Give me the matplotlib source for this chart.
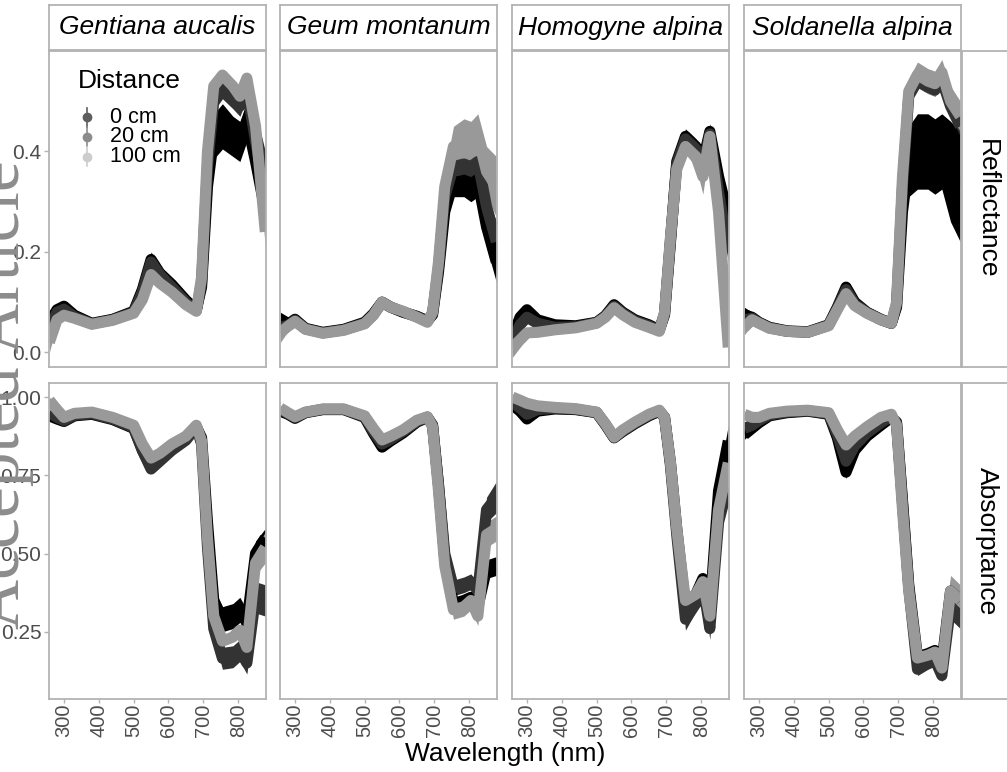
import numpy as np
import matplotlib
matplotlib.use("Agg")
import matplotlib.pyplot as plt
from matplotlib.lines import Line2D

plt.rcParams['font.family'] = ['Liberation Sans', 'DejaVu Sans']

# wavelength grid (nm) shared by every series
wl = [258, 280, 300, 330, 380, 440, 500, 525, 550, 575, 610, 650, 680, 695, 712, 730, 755, 785, 805, 825, 850, 878]

species = ['Gentiana aucalis', 'Geum montanum', 'Homogyne alpina', 'Soldanella alpina']
measures = ['Reflectance', 'Absorptance']
distances = ['0 cm', '20 cm', '100 cm']

# --- reflectance, mean and sd per distance ---
ga_r_0 = [0.06, 0.085, 0.092, 0.074, 0.058, 0.066, 0.082, 0.125, 0.185, 0.158, 0.135, 0.104, 0.085, 0.13, 0.33, 0.43, 0.45, 0.43, 0.42, 0.46, 0.38, 0.28]
ga_r_0_sd = [0.02, 0.01, 0.008, 0.006, 0.005, 0.005, 0.006, 0.01, 0.015, 0.012, 0.01, 0.006, 0.005, 0.02, 0.04, 0.045, 0.045, 0.04, 0.04, 0.04, 0.05, 0.04]
ga_r_20 = [0.05, 0.08, 0.086, 0.071, 0.057, 0.065, 0.08, 0.12, 0.18, 0.155, 0.13, 0.1, 0.083, 0.14, 0.37, 0.5, 0.525, 0.505, 0.49, 0.525, 0.42, 0.32]
ga_r_20_sd = [0.02, 0.008, 0.006, 0.005, 0.005, 0.005, 0.005, 0.01, 0.015, 0.012, 0.01, 0.006, 0.005, 0.015, 0.03, 0.02, 0.02, 0.02, 0.02, 0.02, 0.06, 0.08]
ga_r_100 = [0.02, 0.065, 0.074, 0.068, 0.056, 0.064, 0.078, 0.105, 0.155, 0.138, 0.12, 0.095, 0.082, 0.15, 0.40, 0.53, 0.552, 0.53, 0.51, 0.546, 0.45, 0.24]
ga_r_100_sd = [0.02, 0.008, 0.006, 0.005, 0.005, 0.005, 0.005, 0.006, 0.008, 0.007, 0.006, 0.005, 0.005, 0.01, 0.02, 0.015, 0.012, 0.012, 0.012, 0.012, 0.03, 0.03]

gm_r_0 = [0.06, 0.056, 0.066, 0.048, 0.04, 0.046, 0.06, 0.077, 0.10, 0.09, 0.08, 0.072, 0.063, 0.075, 0.16, 0.28, 0.34, 0.34, 0.33, 0.34, 0.25, 0.18]
gm_r_0_sd = [0.02, 0.015, 0.01, 0.005, 0.004, 0.004, 0.004, 0.005, 0.006, 0.005, 0.005, 0.004, 0.004, 0.008, 0.02, 0.025, 0.03, 0.03, 0.03, 0.03, 0.04, 0.04]
gm_r_20 = [0.05, 0.054, 0.064, 0.047, 0.039, 0.045, 0.058, 0.075, 0.10, 0.09, 0.081, 0.071, 0.062, 0.078, 0.17, 0.31, 0.37, 0.375, 0.37, 0.38, 0.29, 0.22]
gm_r_20_sd = [0.02, 0.012, 0.008, 0.005, 0.004, 0.004, 0.004, 0.005, 0.006, 0.005, 0.005, 0.004, 0.004, 0.008, 0.02, 0.02, 0.02, 0.02, 0.02, 0.02, 0.03, 0.04]
gm_r_100 = [0.04, 0.052, 0.062, 0.046, 0.038, 0.044, 0.057, 0.074, 0.10, 0.09, 0.082, 0.07, 0.06, 0.08, 0.18, 0.33, 0.41, 0.42, 0.415, 0.43, 0.36, 0.33]
gm_r_100_sd = [0.02, 0.01, 0.008, 0.005, 0.004, 0.004, 0.004, 0.005, 0.006, 0.005, 0.005, 0.004, 0.004, 0.008, 0.02, 0.03, 0.04, 0.045, 0.045, 0.045, 0.05, 0.06]

ha_r_0 = [0.03, 0.07, 0.085, 0.065, 0.055, 0.053, 0.06, 0.073, 0.095, 0.08, 0.065, 0.055, 0.045, 0.075, 0.22, 0.38, 0.43, 0.41, 0.38, 0.44, 0.35, 0.27]
ha_r_0_sd = [0.02, 0.015, 0.01, 0.006, 0.005, 0.005, 0.005, 0.005, 0.006, 0.005, 0.005, 0.004, 0.004, 0.008, 0.015, 0.015, 0.015, 0.015, 0.02, 0.015, 0.03, 0.02]
ha_r_20 = [0.02, 0.055, 0.07, 0.058, 0.05, 0.051, 0.059, 0.072, 0.092, 0.078, 0.063, 0.053, 0.044, 0.078, 0.225, 0.375, 0.425, 0.405, 0.37, 0.435, 0.32, 0.2]
ha_r_20_sd = [0.02, 0.015, 0.01, 0.006, 0.005, 0.005, 0.005, 0.005, 0.006, 0.005, 0.005, 0.004, 0.004, 0.008, 0.015, 0.015, 0.015, 0.015, 0.02, 0.015, 0.03, 0.02]
ha_r_100 = [0.01, 0.025, 0.039, 0.04, 0.045, 0.049, 0.058, 0.07, 0.089, 0.075, 0.06, 0.05, 0.042, 0.08, 0.23, 0.365, 0.41, 0.39, 0.35, 0.43, 0.28, 0.01]
ha_r_100_sd = [0.02, 0.015, 0.01, 0.006, 0.005, 0.005, 0.005, 0.005, 0.006, 0.005, 0.005, 0.004, 0.004, 0.008, 0.015, 0.015, 0.015, 0.02, 0.035, 0.015, 0.04, 0.02]

sa_r_0 = [0.075, 0.07, 0.06, 0.05, 0.043, 0.041, 0.055, 0.09, 0.13, 0.1, 0.08, 0.066, 0.058, 0.09, 0.28, 0.38, 0.40, 0.40, 0.39, 0.40, 0.36, 0.33]
sa_r_0_sd = [0.015, 0.01, 0.006, 0.005, 0.004, 0.004, 0.004, 0.006, 0.01, 0.008, 0.005, 0.004, 0.004, 0.01, 0.04, 0.07, 0.075, 0.075, 0.075, 0.075, 0.1, 0.11]
sa_r_20 = [0.065, 0.068, 0.059, 0.049, 0.042, 0.04, 0.054, 0.088, 0.125, 0.097, 0.079, 0.065, 0.058, 0.095, 0.33, 0.51, 0.54, 0.528, 0.522, 0.542, 0.49, 0.45]
sa_r_20_sd = [0.015, 0.01, 0.006, 0.005, 0.004, 0.004, 0.004, 0.005, 0.008, 0.006, 0.004, 0.004, 0.004, 0.008, 0.015, 0.012, 0.012, 0.012, 0.012, 0.012, 0.02, 0.02]
sa_r_100 = [0.05, 0.065, 0.058, 0.048, 0.042, 0.04, 0.053, 0.085, 0.117, 0.093, 0.078, 0.065, 0.058, 0.10, 0.35, 0.52, 0.553, 0.54, 0.535, 0.558, 0.50, 0.47]
sa_r_100_sd = [0.015, 0.01, 0.006, 0.005, 0.004, 0.004, 0.004, 0.005, 0.006, 0.005, 0.004, 0.004, 0.004, 0.008, 0.02, 0.025, 0.025, 0.025, 0.025, 0.025, 0.03, 0.03]

# --- absorptance ---
ga_a_0 = [0.94, 0.93, 0.922, 0.94, 0.945, 0.928, 0.9, 0.83, 0.775, 0.8, 0.835, 0.865, 0.905, 0.87, 0.6, 0.35, 0.29, 0.3, 0.32, 0.28, 0.5, 0.55]
ga_a_0_sd = [0.01, 0.01, 0.006, 0.005, 0.005, 0.005, 0.005, 0.008, 0.012, 0.01, 0.008, 0.006, 0.005, 0.01, 0.03, 0.04, 0.04, 0.04, 0.04, 0.04, 0.04, 0.03]
ga_a_20 = [0.95, 0.935, 0.925, 0.942, 0.947, 0.93, 0.902, 0.83, 0.77, 0.795, 0.83, 0.862, 0.905, 0.85, 0.52, 0.26, 0.165, 0.17, 0.19, 0.15, 0.36, 0.35]
ga_a_20_sd = [0.01, 0.01, 0.006, 0.005, 0.005, 0.005, 0.005, 0.008, 0.015, 0.01, 0.008, 0.006, 0.005, 0.01, 0.03, 0.03, 0.035, 0.035, 0.035, 0.035, 0.05, 0.05]
ga_a_100 = [0.99, 0.96, 0.935, 0.948, 0.952, 0.935, 0.91, 0.85, 0.805, 0.82, 0.85, 0.875, 0.91, 0.86, 0.55, 0.30, 0.22, 0.233, 0.255, 0.20, 0.47, 0.52]
ga_a_100_sd = [0.01, 0.01, 0.006, 0.005, 0.005, 0.005, 0.005, 0.008, 0.01, 0.008, 0.006, 0.006, 0.005, 0.01, 0.02, 0.02, 0.015, 0.015, 0.015, 0.02, 0.04, 0.05]

gm_a_0 = [0.955, 0.945, 0.932, 0.95, 0.96, 0.96, 0.935, 0.885, 0.84, 0.86, 0.885, 0.92, 0.935, 0.91, 0.72, 0.48, 0.34, 0.35, 0.36, 0.33, 0.45, 0.46]
gm_a_0_sd = [0.01, 0.008, 0.006, 0.005, 0.005, 0.005, 0.005, 0.008, 0.012, 0.01, 0.008, 0.006, 0.005, 0.01, 0.02, 0.02, 0.015, 0.015, 0.015, 0.015, 0.03, 0.03]
gm_a_20 = [0.96, 0.947, 0.935, 0.951, 0.961, 0.961, 0.937, 0.89, 0.85, 0.865, 0.89, 0.922, 0.936, 0.91, 0.72, 0.5, 0.39, 0.4, 0.41, 0.38, 0.64, 0.68]
gm_a_20_sd = [0.01, 0.008, 0.006, 0.005, 0.005, 0.005, 0.005, 0.006, 0.01, 0.008, 0.006, 0.005, 0.005, 0.01, 0.02, 0.025, 0.025, 0.025, 0.025, 0.025, 0.04, 0.05]
gm_a_100 = [0.965, 0.95, 0.937, 0.952, 0.962, 0.962, 0.94, 0.90, 0.863, 0.875, 0.895, 0.926, 0.937, 0.905, 0.70, 0.46, 0.32, 0.33, 0.35, 0.30, 0.56, 0.58]
gm_a_100_sd = [0.01, 0.008, 0.006, 0.005, 0.005, 0.005, 0.005, 0.006, 0.008, 0.007, 0.006, 0.005, 0.005, 0.01, 0.02, 0.03, 0.03, 0.03, 0.03, 0.03, 0.04, 0.04]

ha_a_0 = [0.975, 0.955, 0.93, 0.955, 0.962, 0.96, 0.95, 0.912, 0.87, 0.89, 0.915, 0.94, 0.955, 0.935, 0.79, 0.58, 0.33, 0.37, 0.42, 0.32, 0.70, 0.86]
ha_a_0_sd = [0.015, 0.015, 0.01, 0.006, 0.005, 0.005, 0.005, 0.006, 0.008, 0.007, 0.006, 0.005, 0.005, 0.01, 0.02, 0.02, 0.03, 0.02, 0.02, 0.03, 0.04, 0.05]
ha_a_20 = [0.985, 0.965, 0.945, 0.96, 0.964, 0.961, 0.951, 0.913, 0.87, 0.892, 0.917, 0.942, 0.956, 0.935, 0.78, 0.56, 0.29, 0.34, 0.40, 0.26, 0.60, 0.72]
ha_a_20_sd = [0.01, 0.01, 0.008, 0.006, 0.005, 0.005, 0.005, 0.006, 0.008, 0.007, 0.006, 0.005, 0.005, 0.01, 0.02, 0.02, 0.035, 0.025, 0.02, 0.035, 0.04, 0.04]
ha_a_100 = [1.0, 0.99, 0.98, 0.972, 0.967, 0.963, 0.952, 0.915, 0.872, 0.895, 0.92, 0.945, 0.958, 0.935, 0.79, 0.58, 0.35, 0.37, 0.41, 0.30, 0.64, 0.79]
ha_a_100_sd = [0.01, 0.01, 0.008, 0.006, 0.005, 0.005, 0.005, 0.006, 0.008, 0.007, 0.006, 0.005, 0.005, 0.01, 0.02, 0.02, 0.02, 0.02, 0.02, 0.03, 0.04, 0.04]

sa_a_0 = [0.88, 0.9, 0.918, 0.94, 0.95, 0.955, 0.945, 0.87, 0.76, 0.83, 0.875, 0.91, 0.935, 0.92, 0.67, 0.40, 0.17, 0.18, 0.19, 0.15, 0.38, 0.35]
sa_a_0_sd = [0.015, 0.012, 0.008, 0.005, 0.005, 0.005, 0.005, 0.01, 0.02, 0.015, 0.01, 0.008, 0.005, 0.01, 0.02, 0.02, 0.015, 0.015, 0.015, 0.015, 0.04, 0.04]
sa_a_20 = [0.9, 0.91, 0.925, 0.943, 0.952, 0.956, 0.947, 0.88, 0.795, 0.845, 0.885, 0.918, 0.938, 0.915, 0.66, 0.39, 0.13, 0.15, 0.16, 0.11, 0.33, 0.3]
sa_a_20_sd = [0.012, 0.01, 0.008, 0.005, 0.005, 0.005, 0.005, 0.008, 0.015, 0.012, 0.008, 0.006, 0.005, 0.01, 0.02, 0.02, 0.02, 0.02, 0.02, 0.02, 0.04, 0.04]
sa_a_100 = [0.945, 0.935, 0.935, 0.948, 0.955, 0.958, 0.95, 0.895, 0.847, 0.875, 0.905, 0.935, 0.945, 0.91, 0.64, 0.38, 0.166, 0.175, 0.185, 0.134, 0.38, 0.35]
sa_a_100_sd = [0.01, 0.008, 0.006, 0.005, 0.005, 0.005, 0.005, 0.006, 0.008, 0.007, 0.006, 0.005, 0.005, 0.01, 0.02, 0.02, 0.01, 0.01, 0.01, 0.015, 0.05, 0.05]

panels = {
    ('Reflectance', 0): [(ga_r_0, ga_r_0_sd), (ga_r_20, ga_r_20_sd), (ga_r_100, ga_r_100_sd)],
    ('Reflectance', 1): [(gm_r_0, gm_r_0_sd), (gm_r_20, gm_r_20_sd), (gm_r_100, gm_r_100_sd)],
    ('Reflectance', 2): [(ha_r_0, ha_r_0_sd), (ha_r_20, ha_r_20_sd), (ha_r_100, ha_r_100_sd)],
    ('Reflectance', 3): [(sa_r_0, sa_r_0_sd), (sa_r_20, sa_r_20_sd), (sa_r_100, sa_r_100_sd)],
    ('Absorptance', 0): [(ga_a_0, ga_a_0_sd), (ga_a_20, ga_a_20_sd), (ga_a_100, ga_a_100_sd)],
    ('Absorptance', 1): [(gm_a_0, gm_a_0_sd), (gm_a_20, gm_a_20_sd), (gm_a_100, gm_a_100_sd)],
    ('Absorptance', 2): [(ha_a_0, ha_a_0_sd), (ha_a_20, ha_a_20_sd), (ha_a_100, ha_a_100_sd)],
    ('Absorptance', 3): [(sa_a_0, sa_a_0_sd), (sa_a_20, sa_a_20_sd), (sa_a_100, sa_a_100_sd)],
}

line_cols = ['#000000', '#333333', '#999999']
key_cols = ['#5e5e5e', '#8c8c8c', '#cdcdcd']
border = '#b3b3b3'
tick_txt = '#4d4d4d'

W, H = 1007, 772
fig = plt.figure(figsize=(W / 100, H / 100), dpi=100)


def px_axes(x0, y0, x1, y1):
    return fig.add_axes([x0 / W, 1 - y1 / H, (x1 - x0) / W, (y1 - y0) / H])


def strip(ax, label, rot=0, italic=False):
    ax.set_xticks([])
    ax.set_yticks([])
    for s in ax.spines.values():
        s.set_color(border)
        s.set_linewidth(1.3)
    ax.text(0.5, 0.5, label, transform=ax.transAxes, ha='center', va='center',
            rotation=rot, fontsize=19, style='italic' if italic else 'normal')


col_x = [49, 280, 512, 744]
pw = 217
row_y = [(51, 367), (383, 699)]
ylims = {'Reflectance': (-0.029, 0.600), 'Absorptance': (0.035, 1.045)}
yticks = {'Reflectance': ([0.0, 0.2, 0.4], ['0.0', '0.2', '0.4']),
          'Absorptance': ([0.25, 0.5, 0.75, 1.0], ['0.25', '0.50', '0.75', '1.00'])}

for c, sp in enumerate(species):
    sax = px_axes(col_x[c], 5, col_x[c] + pw, 50)
    strip(sax, sp, italic=True)

for r, meas in enumerate(measures):
    y0, y1 = row_y[r]
    rax = px_axes(962, y0, 1012, y1)
    strip(rax, meas, rot=-90)
    for c in range(4):
        ax = px_axes(col_x[c], y0, col_x[c] + pw, y1)
        series = panels[(meas, c)]
        x = np.array(wl)
        for (m, s), col in zip(series, line_cols):
            m = np.array(m)
            s = np.array(s)
            ax.fill_between(x, m - s, m + s, color=col, lw=0)
        for (m, s), col in zip(series, line_cols):
            ax.plot(x, m, color=col, lw=8, solid_joinstyle='round', solid_capstyle='butt')
        ax.set_xlim(257, 880)
        ax.set_ylim(*ylims[meas])
        for s in ax.spines.values():
            s.set_color(border)
            s.set_linewidth(1.3)
        ax.tick_params(color=border, labelcolor=tick_txt, labelsize=15, length=3.5, width=1, pad=2)
        ax.set_xticks([300, 400, 500, 600, 700, 800])
        if r == 1:
            ax.set_xticklabels(['300', '400', '500', '600', '700', '800'], rotation=90)
            ax.tick_params(axis='x', length=3, pad=0.5, labelsize=14.5)
        else:
            ax.tick_params(axis='x', length=0, labelbottom=False)
        ax.set_yticks(yticks[meas][0])
        if c == 0:
            ax.set_yticklabels(yticks[meas][1])
        else:
            ax.tick_params(axis='y', length=0, labelleft=False)

        if r == 0 and c == 0:
            ax.text(0.134, 0.906, 'Distance', transform=ax.transAxes, fontsize=19,
                    ha='left', va='center')
            for i, (lab, kc) in enumerate(zip(distances, key_cols)):
                yy = 0.791 - i * 0.063
                ax.add_line(Line2D([0.175, 0.175], [yy - 0.03, yy + 0.03], transform=ax.transAxes,
                                   color=kc, lw=1.2))
                ax.add_line(Line2D([0.175], [yy], transform=ax.transAxes, marker='o',
                                   markersize=6, color=kc, lw=0))
                ax.text(0.28, yy, lab, transform=ax.transAxes, fontsize=15.5,
                        ha='left', va='center')

fig.text(505 / W, 1 - 754 / H, 'Wavelength (nm)', ha='center', va='center', fontsize=19)

# journal watermark along the left edge
fig.text(19 / W, 1 - 395 / H, 'Accepted Article', rotation=90, rotation_mode='anchor',
         ha='center', va='baseline', fontsize=50, color='#8c8c8c',
         family=['Liberation Serif', 'DejaVu Serif'])

fig.savefig('out.png', dpi=100)
